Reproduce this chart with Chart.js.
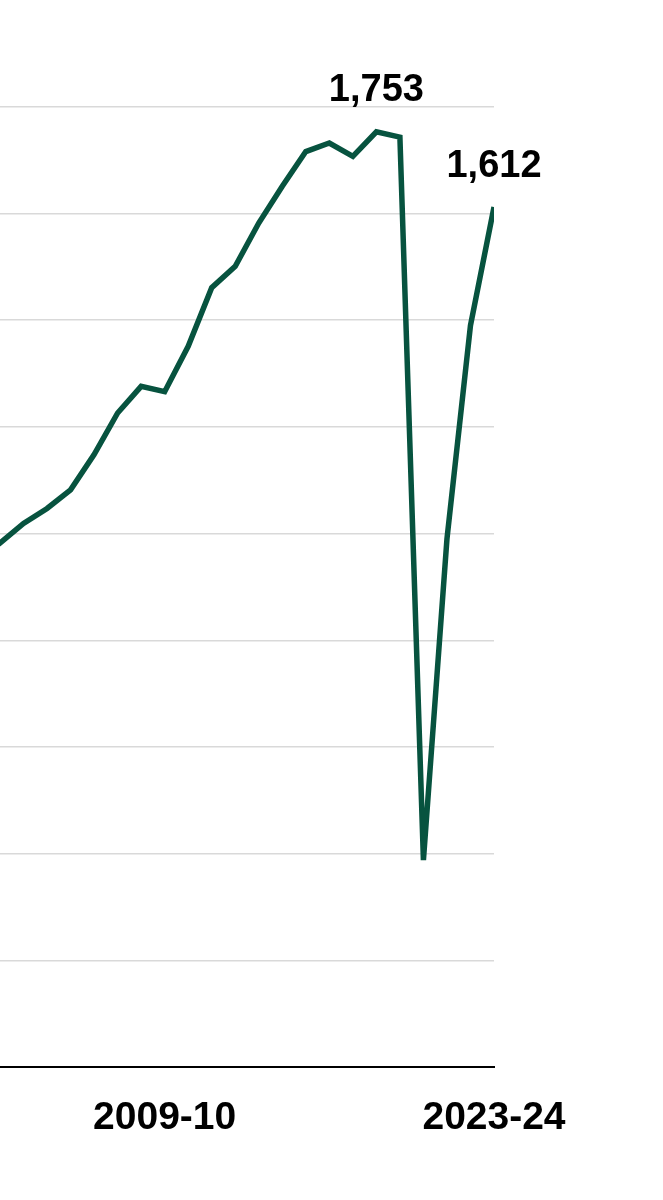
<!DOCTYPE html>
<html>
<head>
<meta charset="utf-8">
<script src="https://cdn.jsdelivr.net/npm/chart.js@4/dist/chart.umd.min.js"></script>
<style>
  html, body { margin: 0; padding: 0; background: #fff; }
  #wrap { width: 663px; height: 1200px; position: relative; }
</style>
</head>
<body>
<div id="wrap"><canvas id="chart"></canvas></div>
<script>
// season start years and the matching labels (chart is cropped on the left)
const startYears = [2001, 2002, 2003, 2004, 2005, 2006, 2007, 2008, 2009, 2010, 2011,
  2012, 2013, 2014, 2015, 2016, 2017, 2018, 2019, 2020, 2021, 2022, 2023];
const seasons = ['2001-02', '2002-03', '2003-04', '2004-05', '2005-06', '2006-07', '2007-08',
  '2008-09', '2009-10', '2010-11', '2011-12', '2012-13', '2013-14', '2014-15', '2015-16',
  '2016-17', '2017-18', '2018-19', '2019-20', '2020-21', '2021-22', '2022-23', '2023-24'];
const values = [950, 982, 1019, 1047, 1082, 1148, 1226, 1276, 1266, 1351, 1461,
  1501, 1582, 1651, 1716, 1732, 1707, 1753, 1743, 388, 990, 1390, 1612];

// x-axis ticks shown and points that get a value label
const tickSeasons = ['2009-10', '2023-24'];
const labelledSeasons = ['2018-19', '2023-24'];

const LINE_COLOR = '#07533f';
const FONT = '"Liberation Sans", Arial, sans-serif';

const points = startYears.map((yr, i) => ({ x: yr, y: values[i] }));

const valueLabels = {
  id: 'valueLabels',
  afterDatasetsDraw(chart) {
    const meta = chart.getDatasetMeta(0);
    const ctx = chart.ctx;
    ctx.save();
    ctx.font = 'bold 38px ' + FONT;
    ctx.fillStyle = '#000';
    ctx.textAlign = 'center';
    ctx.textBaseline = 'bottom';
    labelledSeasons.forEach(s => {
      const i = seasons.indexOf(s);
      const pt = meta.data[i];
      ctx.fillText(values[i].toLocaleString('en-US'), pt.x, pt.y - 22);
    });
    ctx.restore();
  }
};

new Chart(document.getElementById('chart'), {
  type: 'line',
  data: {
    datasets: [{
      data: points,
      borderColor: LINE_COLOR,
      borderWidth: 5.5,
      pointRadius: 0,
      tension: 0,
      fill: false
    }]
  },
  options: {
    responsive: true,
    maintainAspectRatio: false,
    animation: false,
    layout: { padding: { left: 0, right: 169, top: 0, bottom: 30 } },
    plugins: { legend: { display: false }, tooltip: { enabled: false } },
    scales: {
      x: {
        type: 'linear',
        min: 2002,
        max: 2023,
        afterBuildTicks: scale => {
          scale.ticks = tickSeasons.map(s => ({ value: startYears[seasons.indexOf(s)] }));
        },
        ticks: {
          autoSkip: false,
          maxRotation: 0,
          padding: 28,
          color: '#000',
          font: { family: FONT, size: 39, weight: 'bold' },
          callback: v => seasons[startYears.indexOf(v)]
        },
        grid: { display: false, drawTicks: false },
        border: { display: true, color: '#000', width: 2 }
      },
      y: {
        min: 0,
        max: 2000,
        ticks: { display: false, stepSize: 200 },
        grid: {
          drawTicks: false,
          lineWidth: 1.5,
          color: c => (c.tick.value === 0 || c.tick.value === 2000) ? 'rgba(0,0,0,0)' : '#d9d9d9'
        },
        border: { display: false }
      }
    }
  },
  plugins: [valueLabels]
});
</script>
</body>
</html>
